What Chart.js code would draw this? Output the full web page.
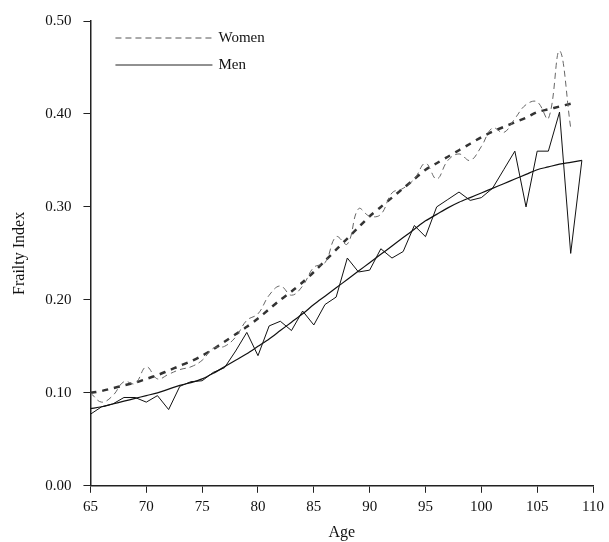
<!DOCTYPE html>
<html>
<head>
<meta charset="utf-8">
<script src="https://cdn.jsdelivr.net/npm/chart.js@4"></script>
<style>
  body { margin: 0; background: #fff; }
  #wrap { width: 609px; height: 542px; }
</style>
</head>
<body>
<div id="wrap"><canvas id="chart"></canvas></div>
<script>
const ages = [];
for (let a = 65; a <= 109; a++) ages.push(a);

const womenObserved = [0.100, 0.090, 0.097, 0.112, 0.110, 0.128, 0.115, 0.120, 0.125, 0.128,
  0.135, 0.148, 0.150, 0.160, 0.178, 0.185, 0.205, 0.215, 0.205, 0.215,
  0.235, 0.240, 0.268, 0.260, 0.298, 0.290, 0.292, 0.315, 0.320, 0.330,
  0.347, 0.330, 0.350, 0.357, 0.350, 0.365, 0.385, 0.380, 0.395, 0.410,
  0.413, 0.395, 0.468, 0.385];
const womenFitted = [0.100, 0.102, 0.105, 0.108, 0.111, 0.115, 0.119, 0.124, 0.129, 0.134,
  0.140, 0.147, 0.155, 0.163, 0.171, 0.180, 0.190, 0.200, 0.209, 0.219,
  0.230, 0.242, 0.254, 0.266, 0.278, 0.290, 0.300, 0.310, 0.320, 0.330,
  0.340, 0.347, 0.354, 0.361, 0.368, 0.375, 0.381, 0.386, 0.391, 0.396,
  0.402, 0.405, 0.408, 0.411];
const menObserved = [0.077, 0.085, 0.088, 0.095, 0.095, 0.090, 0.097, 0.082, 0.107, 0.112,
  0.113, 0.122, 0.127, 0.145, 0.165, 0.140, 0.172, 0.177, 0.167, 0.188,
  0.173, 0.195, 0.203, 0.245, 0.230, 0.232, 0.255, 0.245, 0.252, 0.280,
  0.268, 0.300, 0.308, 0.316, 0.307, 0.310, 0.320, 0.340, 0.360, 0.300,
  0.360, 0.360, 0.402, 0.250, 0.350];
const menFitted = [0.083, 0.085, 0.088, 0.091, 0.094, 0.097, 0.100, 0.104, 0.108, 0.111,
  0.115, 0.121, 0.128, 0.135, 0.142, 0.150, 0.158, 0.167, 0.176, 0.185,
  0.195, 0.204, 0.213, 0.222, 0.231, 0.240, 0.249, 0.258, 0.267, 0.276,
  0.285, 0.292, 0.299, 0.305, 0.310, 0.315, 0.320, 0.325, 0.330, 0.335,
  0.340, 0.343, 0.346, 0.348, 0.350];
const xTicks = [65, 70, 75, 80, 85, 90, 95, 100, 105, 110];

const pts = (ys) => ys.map((y, i) => ({ x: ages[i], y }));
const font = { family: "'Liberation Serif', 'DejaVu Serif', serif", size: 15 };

// legend drawn inside the plot, top-left
const legendPlugin = {
  id: 'insideLegend',
  afterDraw(chart) {
    const ctx = chart.ctx;
    const left = chart.chartArea.left + 25;
    const top = chart.chartArea.top;
    const rows = [
      { label: 'Women', dash: [6, 4], color: '#555', y: top + 17 },
      { label: 'Men', dash: [], color: '#222', y: top + 44 }
    ];
    ctx.save();
    ctx.font = "15px 'Liberation Serif', serif";
    ctx.fillStyle = '#111';
    ctx.textBaseline = 'middle';
    rows.forEach(r => {
      ctx.beginPath();
      ctx.setLineDash(r.dash);
      ctx.strokeStyle = r.color;
      ctx.lineWidth = 1;
      ctx.moveTo(left, r.y);
      ctx.lineTo(left + 97, r.y);
      ctx.stroke();
      ctx.fillText(r.label, left + 103, r.y);
    });
    ctx.restore();
  }
};

new Chart(document.getElementById('chart'), {
  type: 'line',
  data: {
    datasets: [
      { data: pts(womenObserved), borderColor: '#666', borderWidth: 1, borderDash: [6, 4], tension: 0.4, pointRadius: 0 },
      { data: pts(womenFitted), borderColor: '#333', borderWidth: 2.5, borderDash: [6, 6], tension: 0.3, pointRadius: 0 },
      { data: pts(menObserved), borderColor: '#111', borderWidth: 1, tension: 0, pointRadius: 0 },
      { data: pts(menFitted), borderColor: '#111', borderWidth: 1.2, tension: 0.3, pointRadius: 0 }
    ]
  },
  options: {
    responsive: true,
    maintainAspectRatio: false,
    animation: false,
    layout: { padding: { top: 16, right: 12, left: 6, bottom: 0 } },
    plugins: { legend: { display: false }, tooltip: { enabled: false } },
    scales: {
      x: {
        type: 'linear', min: 65, max: 110,
        afterBuildTicks: (axis) => { axis.ticks = xTicks.map(v => ({ value: v })); },
        grid: { drawOnChartArea: false, tickLength: 7, color: '#222' },
        border: { color: '#222', width: 1.5 },
        ticks: { color: '#111', font, padding: 5, maxRotation: 0 },
        title: { display: true, text: 'Age', color: '#111', font: { ...font, size: 16 }, padding: { top: 2, bottom: 0 } }
      },
      y: {
        min: 0, max: 0.5,
        grid: { drawOnChartArea: false, tickLength: 7, color: '#222' },
        border: { color: '#222', width: 1.5 },
        ticks: { stepSize: 0.1, color: '#111', font, padding: 12, callback: v => v.toFixed(2) },
        title: { display: true, text: 'Frailty Index', color: '#111', font: { ...font, size: 16 }, padding: { bottom: 4 } }
      }
    }
  },
  plugins: [legendPlugin]
});
</script>
</body>
</html>
